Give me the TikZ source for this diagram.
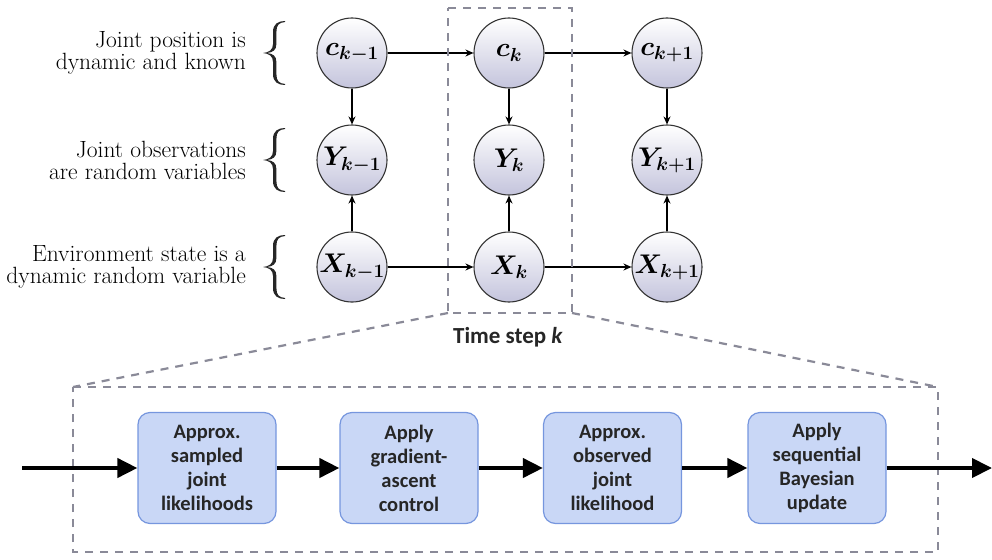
\RequirePackage{fix-cm}
\documentclass[tikz,border=0pt]{standalone}
\usepackage{fontspec}
\newfontfamily\boxfont{Carlito}
\usetikzlibrary{arrows.meta}
\definecolor{nodeshade}{RGB}{196,196,220}
\definecolor{stepfill}{RGB}{201,215,246}
\definecolor{stepedge}{RGB}{118,150,222}
\definecolor{dashgray}{RGB}{138,138,152}
\tikzset{
  rowbrace/.pic={
    \fill[black!85] (22,-32) .. controls (15,-32) and (10,-29) .. (10,-21)
      -- (10,-9) .. controls (10,-3) and (6,-0.6) .. (0,0)
      .. controls (6,0.6) and (10,3) .. (10,9)
      -- (10,21) .. controls (10,29) and (15,32) .. (22,32)
      -- (22,31) .. controls (16,30.5) and (13.4,28) .. (13.4,21)
      -- (13.4,9) .. controls (13.4,3) and (10,0.6) .. (4,0)
      .. controls (10,-0.6) and (13.4,-3) .. (13.4,-9)
      -- (13.4,-21) .. controls (13.4,-28) and (16,-30.5) .. (22,-31) -- cycle;
  }
}
\begin{document}
\begin{tikzpicture}[x=1pt,y=-1pt,
  rv/.style={circle, draw=black!80, line width=1.1pt, minimum size=70pt,
    inner sep=0pt, top color=white, bottom color=nodeshade,
    font=\fontsize{27}{30}\selectfont\boldmath},
  edge/.style={line width=1.2pt, -{Stealth[length=8pt,width=7pt]}},
  note/.style={anchor=east, align=right, inner sep=0pt,
    font=\fontsize{23.5}{22}\selectfont},
  stepbox/.style={draw=stepedge, fill=stepfill, line width=1.2pt,
    rounded corners=12pt, minimum width=138pt, minimum height=111pt,
    align=center, text=black!85, inner sep=0pt,
    font=\boxfont\bfseries\fontsize{20.5}{24}\selectfont},
  flow/.style={line width=4pt, -{Triangle[length=20pt,width=19pt]}},
  zoomline/.style={dashgray, line width=2.2pt, dash pattern=on 8pt off 7pt},
]
\useasboundingbox (0,0) rectangle (992,559);

% time slices of the dynamic model
\node[rv] (cm) at (352,53)  {$c_{k-1}$};
\node[rv] (c)  at (509,53)  {$c_k$};
\node[rv] (cp) at (667,53)  {$c_{k+1}$};
\node[rv] (ym) at (352,160) {$Y_{k-1}$};
\node[rv] (y)  at (509,160) {$Y_k$};
\node[rv] (yp) at (667,160) {$Y_{k+1}$};
\node[rv] (xm) at (352,267) {$X_{k-1}$};
\node[rv] (x)  at (509,267) {$X_k$};
\node[rv] (xp) at (667,267) {$X_{k+1}$};

\draw[edge] (cm) -- (c);
\draw[edge] (c) -- (cp);
\draw[edge] (xm) -- (x);
\draw[edge] (x) -- (xp);
\draw[edge] (cm) -- (ym);
\draw[edge] (c) -- (y);
\draw[edge] (cp) -- (yp);
\draw[edge] (xm) -- (ym);
\draw[edge] (x) -- (y);
\draw[edge] (xp) -- (yp);

% row descriptions
\node[note] (n1) at (246,53)  {Joint position is\\dynamic and known};
\node[note] (n2) at (246,160) {Joint observations\\are random variables};
\node[note] (n3) at (246,267) {Environment state is a\\dynamic random variable};
\pic at (263,53)  {rowbrace};
\pic at (263,160) {rowbrace};
\pic at (263,267) {rowbrace};

% highlighted time step
\coordinate (tl) at (448,8);
\coordinate (tr) at (572,8);
\coordinate (bl) at (448,313);
\coordinate (br) at (572,313);
\draw[zoomline] (tl) -- (tr) -- (br) -- (bl) -- cycle;
\node[font=\boxfont\bfseries\fontsize{23}{26}\selectfont, text=black!85] (tlabel) at (508,337)
  {Time step \textit{k}};

% expanded view of one step
\coordinate (ul) at (73,387);
\coordinate (ur) at (938,387);
\coordinate (ll) at (73,552);
\coordinate (lr) at (938,552);
\draw[zoomline] (ul) -- (ur) -- (lr) -- (ll) -- cycle;
\draw[zoomline] (bl) -- (ul);
\draw[zoomline] (br) -- (ur);

\node[stepbox] (s1) at (207,468)   {Approx.\\sampled\\joint\\likelihoods};
\node[stepbox] (s2) at (409,468)   {Apply\\gradient-\\ascent\\control};
\node[stepbox] (s3) at (612.5,468) {Approx.\\observed\\joint\\likelihood};
\node[stepbox] (s4) at (817,468)   {Apply\\sequential\\Bayesian\\update};
\coordinate (in) at (22,468);
\coordinate (out) at (992,468);
\draw[flow] (in) -- (s1);
\draw[flow] (s1) -- (s2);
\draw[flow] (s2) -- (s3);
\draw[flow] (s3) -- (s4);
\draw[flow] (s4) -- (out);
\end{tikzpicture}
\end{document}
